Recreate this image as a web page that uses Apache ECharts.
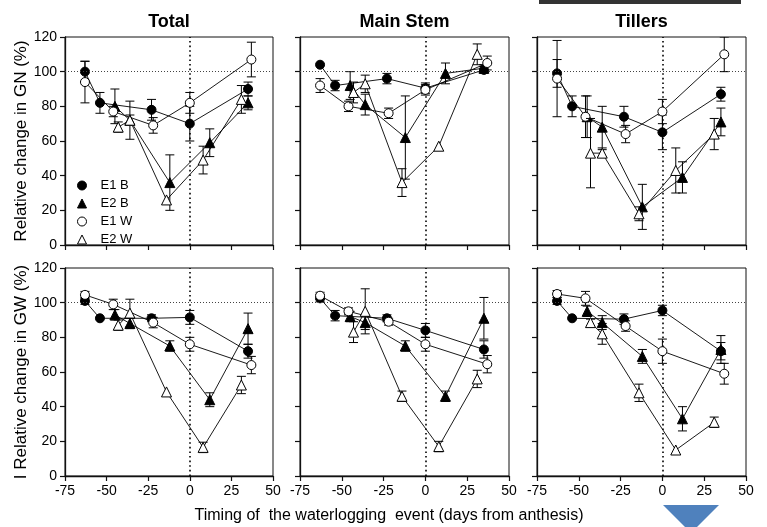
<!DOCTYPE html>
<html>
<head>
<meta charset="utf-8">
<script src="https://cdn.jsdelivr.net/npm/echarts@6/dist/echarts.min.js"></script>
<style>
  html, body { margin: 0; padding: 0; background: #fff; }
  #chart-container { width: 767px; height: 527px; }
</style>
</head>
<body>
<div id="chart-container"></div>
<script>
// treatments, in drawing order
var names = ['E1 B', 'E2 B', 'E1 W', 'E2 W'];

// timing of the waterlogging event (days from anthesis) for each treatment
var xE1B = [-63, -54, -23, 0, 35];
var xE2B = [-45, -36, -12, 12, 35];
var xE1W = [-63, -46, -22, 0, 37];
var xE2W = [-43, -36, -14, 8, 31];

var panelTitles = ['Total', 'Main Stem', 'Tillers'];
var xTicks = [-75, -50, -25, 0, 25, 50];
var yTicks = [0, 20, 40, 60, 80, 100, 120];

// relative change in grain number (%), rows = E1 B, E2 B, E1 W, E2 W
var gnTotal = [[100, 82, 78, 70, 90], [80, 72, 36, 59, 82], [94, 77, 69, 82, 107], [68, 72, 26, 49, 84]];
var gnTotalErr = [[6, 6, 6, 10, 4], [10, 11, 16, 8, 4], [12, 3, 4.5, 6, 10], [3, 3, 0, 8, 8]];
var gnMain = [[104, 92, 96, 90.5, 101], [92, 81, 62, 99, 102], [92, 80, 76, 89.5, 105], [88, 93, 36, 57, 110]];
var gnMainErr = [[0, 3, 3, 3, 2], [8, 6, 24, 6, 2], [4, 3, 3, 3, 4], [6, 5, 8, 0, 6]];
var gnTillers = [[99, 80, 74, 65, 87], [74, 68, 22, 39, 71], [96, 74, 64, 77, 110], [53, 53, 18, 43, 64]];
var gnTillersErr = [[8, 6, 6, 10, 4], [12, 12, 13, 9, 8], [22, 12, 5, 7, 10], [20, 2, 4, 13, 9]];

// relative change in grain weight (%)
var gwTotal = [[101, 91, 91, 91.5, 72], [93, 88, 75, 44, 85], [104.5, 99, 88.5, 76, 64], [87, 94, 48.5, 16.5, 52.5]];
var gwTotalErr = [[2, 0, 2, 4, 4], [3, 3, 3, 4, 9], [2, 3, 3, 4, 5], [3, 8, 0, 3, 5]];
var gwMain = [[102.5, 92.5, 91, 84, 73], [92, 88.5, 75, 46, 91], [104, 95, 89, 76, 64.5], [83, 95, 46, 17, 56]];
var gwMainErr = [[2, 3, 2, 4, 5], [3, 4, 3, 3, 12], [2, 2, 2, 4, 5], [6, 13, 3, 3, 5]];
var gwTillers = [[101, 91, 90.5, 95.5, 72], [95, 88.5, 69, 33, 73], [105, 102.5, 86.5, 72, 59], [88.5, 82, 48, 15, 31]];
var gwTillersErr = [[2, 0, 3, 3, 5], [3, 4, 4, 7, 8], [2, 4, 3, 7, 6], [2, 6, 5, 0, 3]];

var xs = [xE1B, xE2B, xE1W, xE2W];
var panels = [
  [gnTotal, gnTotalErr], [gnMain, gnMainErr], [gnTillers, gnTillersErr],
  [gwTotal, gwTotalErr], [gwMain, gwMainErr], [gwTillers, gwTillersErr]
];

var FONT = "'Liberation Sans', Arial, sans-serif";
var symbols = ['circle', 'triangle', 'circle', 'triangle'];
var sizes = [9, 10, 9, 10];
var fills = ['#000', '#000', '#fff', '#fff'];

var lefts = [65, 300, 537];
var widths = [208, 209, 209];
var tops = [37, 268];

var grid = [], xAxis = [], yAxis = [], series = [];

for (var p = 0; p < 6; p++) {
  var col = p % 3, row = Math.floor(p / 3);
  grid.push({
    left: lefts[col], top: tops[row], width: widths[col], height: 208,
    show: true, borderColor: '#111', borderWidth: 1, backgroundColor: 'transparent'
  });
  xAxis.push({
    type: 'value', gridIndex: p, min: -75, max: 50, interval: 25,
    axisLine: { onZero: false, lineStyle: { color: '#111', width: 1.3 } },
    axisTick: { inside: false, length: 5, lineStyle: { color: '#111', width: 1.2 } },
    splitLine: { show: false },
    axisLabel: {
      show: row === 1, fontFamily: FONT, fontSize: 14, color: '#000', margin: 8,
      formatter: function (v) { return xTicks.indexOf(v) >= 0 ? String(v) : ''; }
    }
  });
  yAxis.push({
    type: 'value', gridIndex: p, min: 0, max: 120, interval: 20,
    name: col === 0 ? (row === 0 ? 'Relative change in GN (%)' : 'I Relative change in GW (%)') : '',
    nameLocation: 'middle', nameGap: 34,
    nameTextStyle: { fontFamily: FONT, fontSize: 17, color: '#000' },
    axisLine: { onZero: false, lineStyle: { color: '#111', width: 1.3 } },
    axisTick: { inside: false, length: 5, lineStyle: { color: '#111', width: 1.2 } },
    splitLine: { show: false },
    axisLabel: {
      show: col === 0, fontFamily: FONT, fontSize: 14, color: '#000', margin: 8,
      formatter: function (v) { return yTicks.indexOf(v) >= 0 ? String(v) : ''; }
    }
  });

  // reference lines: 100 % and anthesis
  series.push({
    type: 'line', xAxisIndex: p, yAxisIndex: p, data: [], silent: true, z: 1,
    markLine: {
      silent: true, symbol: 'none', label: { show: false },
      data: [
        { yAxis: 100, lineStyle: { type: [1, 2], color: '#444', width: 1 } },
        { xAxis: 0, lineStyle: { type: [1.6, 3], color: '#000', width: 1.6 } }
      ]
    }
  });

  var vals = panels[p][0], errs = panels[p][1];
  for (var t = 0; t < 4; t++) {
    var pts = [], ebars = [];
    for (var i = 0; i < xs[t].length; i++) {
      pts.push([xs[t][i], vals[t][i]]);
      ebars.push([xs[t][i], vals[t][i], errs[t][i]]);
    }
    // error bars (unnamed so the legend takes its style from the line series)
    series.push({
      type: 'custom', xAxisIndex: p, yAxisIndex: p, z: 2 + t * 2,
      silent: true, clip: true,
      encode: { x: 0, y: 1 },
      data: ebars,
      renderItem: function (params, api) {
        var x = api.value(0), y = api.value(1), e = api.value(2);
        if (!e) return null;
        var hi = api.coord([x, y + e]), lo = api.coord([x, y - e]);
        var w = 4.5, st = { stroke: '#000', lineWidth: 1 };
        return {
          type: 'group', children: [
            { type: 'line', shape: { x1: hi[0], y1: hi[1], x2: lo[0], y2: lo[1] }, style: st },
            { type: 'line', shape: { x1: hi[0] - w, y1: hi[1], x2: hi[0] + w, y2: hi[1] }, style: st },
            { type: 'line', shape: { x1: lo[0] - w, y1: lo[1], x2: lo[0] + w, y2: lo[1] }, style: st }
          ]
        };
      }
    });
    series.push({
      type: 'line', name: names[t], xAxisIndex: p, yAxisIndex: p, z: 3 + t * 2,
      data: pts, symbol: symbols[t], symbolSize: sizes[t], showAllSymbol: true,
      lineStyle: { color: '#000', width: 0.9 },
      itemStyle: { color: fills[t], borderColor: '#000', borderWidth: 1, opacity: 1 }
    });
  }
}

var graphic = [];
for (var c = 0; c < 3; c++) {
  graphic.push({
    type: 'text', x: lefts[c] + widths[c] / 2, y: 22,
    style: { text: panelTitles[c], fill: '#000', font: 'bold 18px ' + FONT, textAlign: 'center', textVerticalAlign: 'middle' }
  });
}
graphic.push({
  type: 'text', x: 389, y: 516,
  style: { text: 'Timing of  the waterlogging  event (days from anthesis)', fill: '#000', font: '16px ' + FONT, textAlign: 'center', textVerticalAlign: 'middle' }
});
graphic.push({ type: 'rect', shape: { x: 539, y: 0, width: 202, height: 4 }, style: { fill: '#333' } });
graphic.push({ type: 'polygon', shape: { points: [[663, 505], [719, 505], [691, 533]] }, style: { fill: '#4f81bd' } });

var dom = document.getElementById('chart-container');
var myChart = echarts.init(dom, null, { renderer: 'canvas' });

var option = {
  animation: false,
  backgroundColor: '#fff',
  grid: grid,
  xAxis: xAxis,
  yAxis: yAxis,
  legend: {
    orient: 'vertical', left: 72, top: 174, itemWidth: 9, itemHeight: 9, itemGap: 5,
    selectedMode: false,
    itemStyle: { borderWidth: 1 },
    textStyle: { fontFamily: FONT, fontSize: 13, color: '#000', padding: [0, 0, 0, 9] },
    data: [
      { name: 'E1 B', icon: 'circle' },
      { name: 'E2 B', icon: 'triangle' },
      { name: 'E1 W', icon: 'circle' },
      { name: 'E2 W', icon: 'triangle' }
    ]
  },
  graphic: graphic,
  series: series
};

myChart.setOption(option);
window.addEventListener('resize', myChart.resize);
</script>
</body>
</html>
